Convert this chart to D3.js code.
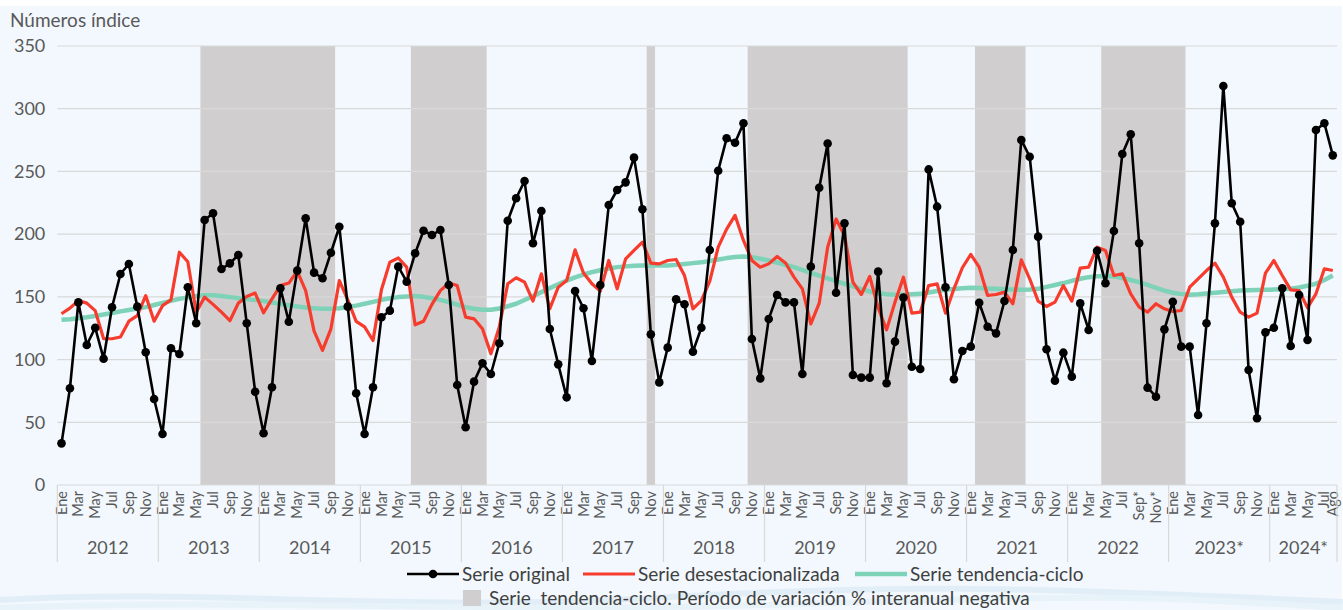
<!DOCTYPE html>
<html lang="es">
<head>
<meta charset="UTF-8">
<title>Números índice</title>
<script src="https://cdnjs.cloudflare.com/ajax/libs/d3/7.8.5/d3.min.js"></script>
<style>
  body { margin: 0; background: #ffffff; }
  svg { display: block; font-family: Lato, "Open Sans", sans-serif; }
</style>
</head>
<body>
<svg width="1343" height="610"></svg>
<script>
// --- data ---
const years = ["2012", "2013", "2014", "2015", "2016", "2017", "2018", "2019", "2020", "2021", "2022", "2023*", "2024*"];
const monthNames = ["Ene", "Feb", "Mar", "Abr", "May", "Jun", "Jul", "Ago", "Sep", "Oct", "Nov", "Dic"];
const lastMonthCount = 8; // 2024 up to Ago

const serieOriginal = [
  33.2, 77.1, 145.6, 111.6, 125.4, 100.7, 141.7, 168.2, 176.2, 142.2, 105.8, 68.6,
  40.7, 109, 104.4, 157.6, 128.9, 211.3, 216.6, 172.2, 176.7, 183.4, 128.9, 74.4,
  41.2, 77.9, 156.8, 130.2, 170.9, 212.6, 169.3, 164.8, 185.2, 205.9, 142.2, 73.1,
  40.7, 77.9, 133.7, 139, 174.1, 162.1, 184.7, 202.7, 199.3, 203.3, 159.5, 79.7,
  46, 82.4, 97, 88.5, 113, 210.7, 228.6, 242.4, 192.7, 218.4, 124.4, 96.2,
  69.9, 154.7, 140.9, 98.9, 159.5, 223.2, 235.2, 241.3, 261, 219.8, 120.1, 81.8,
  109.5, 148, 144.1, 106.3, 125.4, 187.4, 250.6, 276.4, 272.9, 288.4, 116.4, 85,
  132.3, 151.5, 145.6, 145.6, 88.5, 174.1, 237, 272.3, 153.3, 208.6, 87.7, 85.6,
  85.6, 170.1, 81.1, 114.3, 149.4, 94.3, 92.5, 251.6, 221.9, 157.6, 84.3, 106.8,
  110.3, 145.3, 126.2, 120.9, 146.7, 187.4, 275.1, 261.7, 198, 108.2, 83.2, 105.5,
  86.4, 144.8, 123.6, 186.8, 160.8, 202.5, 263.9, 279.6, 192.7, 77.6, 70.4, 124.1,
  146.1, 110.3, 110.3, 55.8, 128.9, 208.6, 318.1, 224.6, 209.9, 91.7, 53.2, 121.7,
  125.4, 156.8, 110.8, 151.5, 115.6, 283, 288.4, 262.8
];

const serieDesest = [
  136.5, 141, 147, 145, 139, 116.6, 116.6, 118, 130.6, 135, 151, 130.6,
  143, 147.6, 185.6, 178, 137.8, 149.8, 144, 137.8, 131, 145, 150.3, 153,
  137.3, 148.4, 159, 161, 170.5, 155, 122.7, 107.3, 124.5, 163, 147.6, 130.4,
  126, 115.2, 155.6, 177.7, 181, 173.7, 127.7, 130.6, 144, 155, 161, 159,
  133.8, 132.5, 124.5, 104.6, 126, 160.4, 165.2, 161.7, 146.6, 168.4, 140.5, 157.7,
  163, 187.5, 169, 160.4, 154.6, 179, 156.4, 180.3, 187, 193.6, 176.9, 176.3,
  179, 179.8, 167, 140.5, 147, 162.5, 189.6, 204, 215, 195, 179, 173.7,
  176.3, 182.2, 177, 165.7, 156.4, 128.5, 145, 189.6, 212, 199, 161.7, 151.9,
  166.3, 141.3, 123.7, 145.8, 165.7, 137, 137.8, 159, 160.4, 137, 156.4, 173.2,
  183.8, 173.7, 151.1, 151.9, 153.8, 144.5, 179.5, 164.4, 146.6, 142.3, 145.8, 159,
  146.6, 172.9, 173.7, 189.6, 187, 167, 168.4, 152.4, 141.8, 137.8, 144.5, 140.5,
  138.3, 139.1, 157.7, 164.4, 171, 176.9, 165.7, 149.8, 137.8, 133.8, 137, 168.9,
  179, 167, 155.6, 155, 141.3, 152.4, 172.4, 171
];

const serieTendencia = [
  131.7, 132.2, 133, 133.8, 134.8, 136, 137.2, 138.4, 139.5, 140.7, 141.8, 143.5,
  145.2, 146.8, 148.4, 149.6, 150.6, 151.2, 151.2, 150.7, 149.8, 149, 148.2, 147.4,
  146.6, 145.5, 144.4, 143.3, 142.3, 141.6, 141, 140.6, 140.5, 141, 141.9, 143,
  144.5, 146, 147.6, 148.9, 149.8, 150.3, 150.6, 150, 148.9, 147.6, 145.8, 143.8,
  141.8, 140.5, 139.8, 139.7, 140.7, 142.5, 144.5, 147.5, 150.7, 153.8, 157, 160,
  163, 165.5, 167.8, 169.7, 171.2, 172.6, 173.7, 174.3, 174.8, 175, 175, 175,
  175, 175.5, 176.2, 176.9, 177.5, 178.6, 179.8, 180.9, 181.7, 182.2, 181.6, 180.5,
  179, 177.4, 175.6, 173.7, 171.5, 169.2, 167, 164.8, 162.6, 160.4, 158.3, 156.2,
  154.3, 153, 152.1, 151.6, 151.6, 152, 152.4, 153.5, 154.6, 155.6, 156.3, 156.9,
  157.2, 157, 156.7, 156.4, 156, 155.8, 155.6, 155.8, 156.4, 158, 159.5, 161,
  162.8, 164.4, 165.7, 166.4, 166.6, 166.3, 165, 163.4, 161.7, 159.5, 157.2, 155,
  153.3, 152.2, 151.6, 152, 152.6, 153.2, 153.8, 154.4, 155, 155.2, 155.4, 155.6,
  155.8, 156.1, 156.4, 157.5, 158.8, 160.4, 163.5, 167
];

// months with negative year-on-year change of the trend (first, last index, inclusive)
const negativePeriods = [[17, 32], [42, 50], [70, 70], [82, 100], [109, 114], [124, 133]];

const yTicks = [0, 50, 100, 150, 200, 250, 300, 350];

// --- categories ---
const categories = [];
years.forEach((yr, yi) => {
  const n = yi === years.length - 1 ? lastMonthCount : 12;
  for (let m = 0; m < n; m++) {
    // 2022 from Sep on is provisional
    const star = (yr === "2022" && m >= 8) ? "*" : "";
    categories.push({ idx: categories.length, year: yi, month: m, label: monthNames[m] + star });
  }
});

// --- layout ---
const svg = d3.select("svg");
const W = 1343, H = 610;
const plotLeft = 57.3, plotRight = 1337, plotTop = 46, plotBottom = 485;
const textColor = "#595959";

svg.append("rect").attr("width", W).attr("height", H).attr("fill", "#ffffff");
svg.append("rect").attr("y", 6).attr("width", W - 1).attr("height", H - 6).attr("fill", "#f2f8fd");

// faint waves at the bottom
const waves = svg.append("g").attr("fill", "none").attr("stroke", "#dcebf5").attr("stroke-width", 6).attr("opacity", 0.7);
waves.append("path").attr("d", "M0,600 C200,588 400,612 650,598 S1000,586 1343,602");
waves.append("path").attr("d", "M0,608 C250,598 500,614 800,604 S1150,596 1343,608").attr("stroke", "#e3f0f8");

const x = d3.scaleBand().domain(categories.map(d => d.idx)).range([plotLeft, plotRight]).padding(0);
const bw = x.bandwidth();
const cx = i => x(i) + bw / 2;
const y = d3.scaleLinear().domain([0, 350]).range([plotBottom, plotTop]);

// shaded periods
svg.append("g").selectAll("rect")
  .data(negativePeriods)
  .join("rect")
  .attr("x", d => x(d[0]))
  .attr("width", d => x(d[1]) + bw - x(d[0]))
  .attr("y", y(350))
  .attr("height", y(0) - y(350))
  .attr("fill", "#d0cece");

// gridlines
svg.append("g").selectAll("line")
  .data(yTicks)
  .join("line")
  .attr("x1", plotLeft).attr("x2", plotRight)
  .attr("y1", d => y(d)).attr("y2", d => y(d))
  .attr("stroke", "#d9d9d9").attr("stroke-width", 1.2);

// y axis labels
const yAxis = d3.axisLeft(y).tickValues(yTicks).tickSize(0).tickPadding(12);
svg.append("g")
  .attr("transform", `translate(${plotLeft},0)`)
  .call(yAxis)
  .call(g => g.select(".domain").remove())
  .selectAll("text")
  .attr("font-family", "Lato, sans-serif")
  .attr("font-size", 18)
  .attr("fill", textColor);

svg.append("text")
  .attr("x", 10).attr("y", 27)
  .attr("font-size", 19).attr("fill", textColor)
  .text("Números índice");

// x axis: month labels
const shown = categories.filter(d => d.idx % 2 === 0 || d.idx === categories.length - 1);
svg.append("g").selectAll("text")
  .data(shown)
  .join("text")
  .attr("transform", d => `translate(${cx(d.idx)},${plotBottom + 6}) rotate(-90)`)
  .attr("text-anchor", "end")
  .attr("dy", "0.35em")
  .attr("font-size", 14.5)
  .attr("fill", textColor)
  .text(d => d.label);

// year separators and labels
const yearStarts = years.map((yr, yi) => categories.find(d => d.year === yi).idx);
const sepX = yearStarts.map(i => x(i)).concat([plotRight]);
svg.append("g").selectAll("line")
  .data(sepX)
  .join("line")
  .attr("x1", d => d).attr("x2", d => d)
  .attr("y1", plotBottom).attr("y2", 562)
  .attr("stroke", "#d9d9d9").attr("stroke-width", 1.2);

svg.append("g").selectAll("text")
  .data(years)
  .join("text")
  .attr("x", (d, yi) => (sepX[yi] + sepX[yi + 1]) / 2)
  .attr("y", 554)
  .attr("text-anchor", "middle")
  .attr("font-size", 18)
  .attr("fill", textColor)
  .text(d => d);

// series
const line = d3.line().x((d, i) => cx(i)).y(d => y(d));

svg.append("path")
  .datum(serieTendencia)
  .attr("d", line)
  .attr("fill", "none")
  .attr("stroke", "#7dd2b7")
  .attr("stroke-width", 4.5)
  .attr("stroke-linejoin", "round");

svg.append("path")
  .datum(serieDesest)
  .attr("d", line)
  .attr("fill", "none")
  .attr("stroke", "#f73b2c")
  .attr("stroke-width", 3.2)
  .attr("stroke-linejoin", "round");

svg.append("path")
  .datum(serieOriginal)
  .attr("d", line)
  .attr("fill", "none")
  .attr("stroke", "#000000")
  .attr("stroke-width", 2.6)
  .attr("stroke-linejoin", "round");

svg.append("g").selectAll("circle")
  .data(serieOriginal)
  .join("circle")
  .attr("cx", (d, i) => cx(i))
  .attr("cy", d => y(d))
  .attr("r", 4.3)
  .attr("fill", "#000000");

// legend
const legend = svg.append("g").attr("font-size", 19).attr("fill", "#404040");
const lgY = 574;
const items = [
  { x: 407, label: "Serie original", color: "#000000", w: 2.6, dot: true },
  { x: 583, label: "Serie desestacionalizada", color: "#f73b2c", w: 3.2 },
  { x: 855, label: "Serie tendencia-ciclo", color: "#7dd2b7", w: 4.5 }
];
items.forEach(it => {
  legend.append("line")
    .attr("x1", it.x).attr("x2", it.x + 52)
    .attr("y1", lgY).attr("y2", lgY)
    .attr("stroke", it.color).attr("stroke-width", it.w);
  if (it.dot) {
    legend.append("circle").attr("cx", it.x + 26).attr("cy", lgY).attr("r", 4.3).attr("fill", it.color);
  }
  legend.append("text")
    .attr("x", it.x + 55).attr("y", lgY).attr("dy", "0.35em")
    .text(it.label);
});
legend.append("rect")
  .attr("x", 463).attr("y", 590).attr("width", 18).attr("height", 16)
  .attr("fill", "#d0cece");
legend.append("text")
  .attr("x", 489).attr("y", 598).attr("dy", "0.35em")
  .attr("xml:space", "preserve")
  .text("Serie  tendencia-ciclo. Período de variación % interanual negativa");
</script>
</body>
</html>
